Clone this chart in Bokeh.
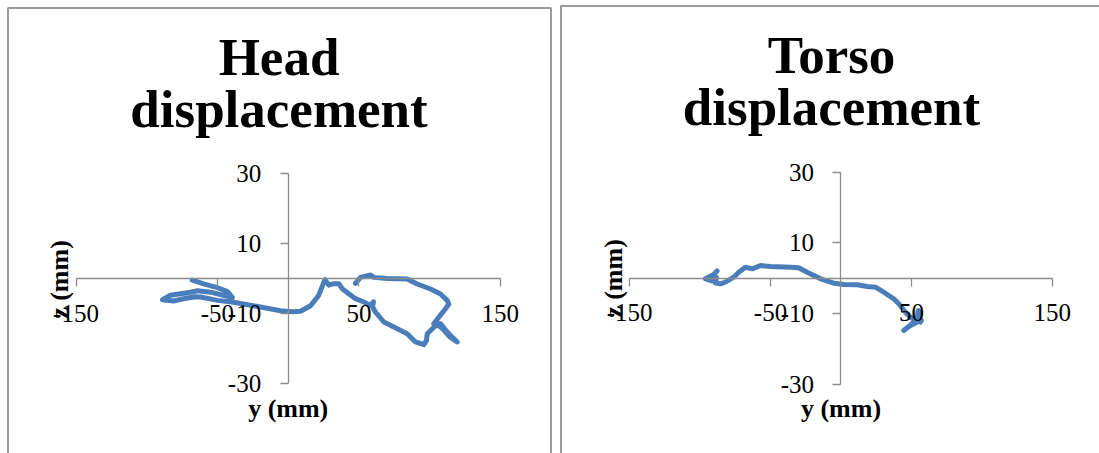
from bokeh.plotting import figure
from bokeh.layouts import row
from bokeh.models import (LinearAxis, FixedTicker, Range1d, Label, BoxAnnotation,
                          PrintfTickFormatter)
from bokeh.embed import file_html
from bokeh.resources import INLINE
import math

# Head trajectory: lateral y (mm) vs vertical z (mm)
head_y = [47.6, 51.1, 58.2, 60.5, 70.0, 84.1, 91.2, 100.6, 107.7, 112.4, 113.6, 111.2,
          102.9, 107.7, 112.4, 119.5, 114.1, 108.4, 104.9, 98.3, 97.8, 95.9, 90.0,
          84.1, 74.7, 67.6, 61.7, 59.6, 60.3, 58.2, 53.5, 47.6, 42.8, 38.2, 35.8,
          32.2, 28.7, 26.0, 24.3, 21.4, 15.8, 8.7, 3.0, -5.4, -19.6, -38.7, -50.0,
          -62.0, -65.5, -74.0, -81.1, -88.9, -83.2, -76.2, -69.1, -64.1, -54.9,
          -46.5, -39.4, -42.9, -50.0, -59.2, -67.9]
head_z = [-1.26, 0.46, 1.14, 0.46, 0.17, 0.0, -1.43, -2.86, -4.29, -6.11, -7.14, -8.49,
          -12.77, -12.77, -15.14, -18.0, -16.49, -13.91, -13.06, -15.63, -17.54, -18.77,
          -18.0, -15.63, -13.71, -12.29, -9.43, -7.91, -6.49, -7.54, -6.57, -5.63, -4.2,
          -2.77, -1.34, -1.34, -1.77, -0.2, -1.91, -4.77, -7.63, -9.2, -9.34, -9.06,
          -8.0, -6.63, -6.11, -5.14, -5.06, -5.63, -6.29, -5.91, -4.63, -4.2, -3.77,
          -3.34, -3.77, -4.63, -5.34, -3.63, -2.49, -1.49, -0.34]

# Torso trajectory
torso_y = [-87.9, -90.3, -96.2, -91.2, -88.4, -89.1, -85.5, -82.0, -76.1, -72.5, -67.8,
           -63.0, -57.1, -50.0, -35.8, -30.0, -24.0, -14.5, -5.1, 2.0, 11.5, 18.6, 24.5,
           30.4, 37.5, 41.0, 45.8, 49.3, 52.9, 56.4, 55.0, 53.6, 49.3, 44.6, 50.7, 57.1]
torso_z = [2.04, 1.05, -0.17, -0.79, 0.2, -1.36, -1.59, -1.13, 0.28, 1.7, 3.12, 2.66,
           3.6, 3.31, 3.12, 2.95, 1.7, -0.17, -1.42, -1.78, -1.87, -2.35, -2.55, -3.97,
           -5.84, -7.25, -9.63, -11.05, -11.98, -12.46, -9.15, -12.55, -13.4, -14.82,
           -12.83, -11.98]

x_ticks = [-150, -50, 50, 150]
y_ticks = [-30, -10, 10, 30]
x_title = "y (mm)"
y_title = "z (mm)"
line_blue = "#4a7ebb"
axis_gray = "#8c8c8c"
serif = "Liberation Serif"
H = 453


def panel(width, x_range, y_range, title_words, title_x, title_base, border):
    p = figure(width=width, height=H, x_range=Range1d(*x_range), y_range=Range1d(*y_range),
               x_axis_location=None, y_axis_location=None, toolbar_location=None,
               output_backend="svg", min_border=0, title=None)
    p.outline_line_color = None
    p.xgrid.visible = False
    p.ygrid.visible = False
    p.background_fill_color = "white"
    p.border_fill_color = "white"

    # panel frame (open at the bottom, which lies below the canvas)
    p.add_layout(BoxAnnotation(left=border[0], right=border[1], top=H - border[2], bottom=-20,
                               left_units="screen", right_units="screen",
                               top_units="screen", bottom_units="screen",
                               fill_color=None, fill_alpha=0,
                               line_color="#9a9a9a", line_width=2, line_alpha=1))

    xa = LinearAxis(ticker=FixedTicker(ticks=x_ticks), fixed_location=0, bounds=(-150, 150))
    ya = LinearAxis(ticker=FixedTicker(ticks=y_ticks), fixed_location=0, bounds=(-30, 30))
    for ax in (xa, ya):
        ax.formatter = PrintfTickFormatter(format="%d")
        ax.axis_line_color = axis_gray
        ax.axis_line_width = 1.3
        ax.major_tick_line_color = axis_gray
        ax.major_tick_line_width = 1.3
        ax.major_tick_out = 8
        ax.major_tick_in = 0
        ax.minor_tick_out = 0
        ax.minor_tick_in = 0
        ax.major_label_text_font = serif
        ax.major_label_text_font_size = "25px"
        ax.major_label_text_color = "black"
    xa.major_label_standoff = 18
    ya.major_label_standoff = 19
    p.add_layout(xa, "below")
    p.add_layout(ya, "left")

    for word, base in zip(title_words, title_base):
        p.add_layout(Label(x=title_x, y=H - base, x_units="screen", y_units="screen",
                           text=word, text_align="center", text_baseline="alphabetic",
                           text_font=serif, text_font_style="bold",
                           text_font_size="53px", text_color="black"))
    return p


def axis_titles(p, xt_x, yt_x, yt_y):
    p.add_layout(Label(x=xt_x, y=H - 408, x_units="screen", y_units="screen", text=x_title,
                       text_align="center", text_baseline="alphabetic", text_font=serif,
                       text_font_style="bold", text_font_size="26px", text_color="black"))
    p.add_layout(Label(x=yt_x, y=H - yt_y, x_units="screen", y_units="screen", text=y_title,
                       angle=math.pi / 2, text_align="center", text_baseline="middle",
                       text_font=serif, text_font_style="bold", text_font_size="26px",
                       text_color="black"))


p1 = panel(555, (-203.4, 189.0), (-49.86, 79.57), ["Head", "displacement"], 278.5,
           [56.0, 108.5], (7.5, 550.5, 7.5))
p1.line(head_y, head_z, line_color=line_blue, line_width=5, line_join="round",
        line_cap="round")
axis_titles(p1, 287.7, 58.5, 279)

p2 = panel(544, (-202.6, 183.5), (-49.66, 78.67), ["Torso", "displacement"], 276.0,
           [54.0, 106.5], (5.5, 600, 5.5))
p2.line(torso_y, torso_z, line_color=line_blue, line_width=5, line_join="round",
        line_cap="round")
axis_titles(p2, 285.5, 58.0, 278)

layout = row(p1, p2, spacing=0)
open("out.html", "w").write(file_html(layout, INLINE))
